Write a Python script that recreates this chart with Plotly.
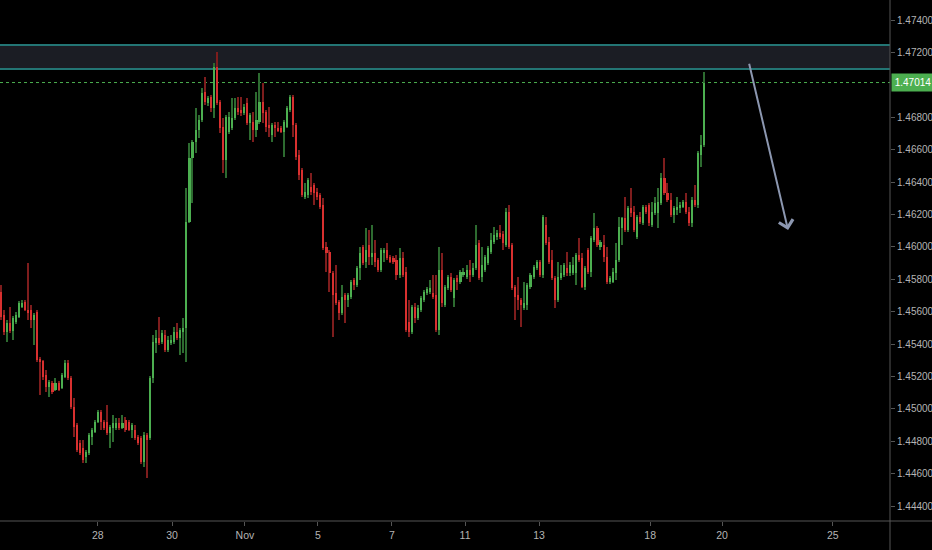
import plotly.graph_objects as go

# ---- data (2H candles) ----
open_ = [
1.45720,1.45578,1.45474,1.45529,1.45480,1.45535,1.45566,1.45628,1.45659,1.45609,
1.45609,1.45548,1.45597,1.45307,1.45295,1.45208,1.45134,1.45159,1.45116,1.45159,
1.45128,1.45196,1.45282,1.45190,1.45011,1.44900,1.44789,1.44758,1.44702,1.44727,
1.44826,1.44857,1.44918,1.44980,1.44918,1.44918,1.44850,1.44881,1.44881,1.44912,
1.44881,1.44931,1.44918,1.44869,1.44869,1.44826,1.44820,1.44671,1.44838,1.44820,
1.45190,1.45406,1.45437,1.45412,1.45455,1.45363,1.45406,1.45412,1.45474,1.45437,
1.45474,1.45498,1.46152,1.46547,1.46646,1.46720,1.46782,1.46954,1.46887,1.46924,
1.46856,1.47109,1.46893,1.46738,1.46535,1.46708,1.46732,1.46794,1.46856,1.46844,
1.46825,1.46887,1.46763,1.46769,1.46720,1.46769,1.46893,1.46831,1.46751,1.46689,
1.46751,1.46732,1.46732,1.46708,1.46738,1.46844,1.46924,1.46751,1.46566,1.46473,
1.46306,1.46319,1.46368,1.46381,1.46337,1.46319,1.46257,1.45998,1.45967,1.45838,
1.45714,1.45659,1.45591,1.45702,1.45671,1.45690,1.45795,1.45764,1.45868,1.45998,
1.45905,1.46010,1.45936,1.45961,1.45918,1.45856,1.45961,1.45980,1.45936,1.45930,
1.45918,1.45825,1.45930,1.45844,1.45535,1.45474,1.45628,1.45560,1.45609,1.45671,
1.45714,1.45720,1.45714,1.45702,1.45486,1.45856,1.45640,1.45745,1.45813,1.45683,
1.45807,1.45782,1.45825,1.45813,1.45856,1.45825,1.45868,1.46023,1.45813,1.45856,
1.45899,1.45967,1.46029,1.46060,1.46084,1.46078,1.46010,1.46214,1.46010,1.45751,
1.45702,1.45671,1.45622,1.45640,1.45751,1.45813,1.45868,1.45905,1.45825,1.46134,
1.46029,1.45918,1.45807,1.45671,1.45807,1.45825,1.45868,1.45838,1.45838,1.45838,
1.45949,1.45930,1.45751,1.45980,1.45844,1.46041,1.46115,1.45998,1.46010,1.45936,
1.45782,1.45782,1.45838,1.45918,1.46115,1.46177,1.46103,1.46239,1.46214,1.46060,
1.46183,1.46146,1.46245,1.46257,1.46134,1.46208,1.46208,1.46270,1.46424,1.46331,
1.46288,1.46195,1.46226,1.46239,1.46245,1.46276,1.46214,1.46146,1.46288,1.46257,
1.46566,1.46627]

high = [
1.45764,1.45609,1.45548,1.45628,1.45572,1.45597,1.45665,1.45671,1.45671,1.45899,
1.45640,1.45591,1.45609,1.45319,1.45301,1.45239,1.45177,1.45171,1.45190,1.45171,
1.45221,1.45301,1.45301,1.45202,1.45066,1.44912,1.44807,1.44807,1.44745,1.44850,
1.44881,1.44931,1.44992,1.44992,1.44931,1.45023,1.44900,1.44961,1.44943,1.44943,
1.44961,1.44949,1.44931,1.44912,1.44900,1.44838,1.44832,1.44857,1.44850,1.45202,
1.45455,1.45486,1.45566,1.45486,1.45486,1.45449,1.45455,1.45505,1.45529,1.45498,
1.45560,1.46362,1.46640,1.46658,1.46856,1.46812,1.46979,1.47047,1.46930,1.46936,
1.47133,1.47201,1.46905,1.46794,1.46812,1.46831,1.46917,1.46917,1.46924,1.46924,
1.46880,1.46917,1.46825,1.46831,1.46954,1.47072,1.47010,1.46844,1.46862,1.46763,
1.46769,1.46769,1.46745,1.46782,1.46868,1.46936,1.46936,1.46763,1.46597,1.46485,
1.46393,1.46424,1.46455,1.46393,1.46362,1.46331,1.46300,1.46029,1.45980,1.45850,
1.45887,1.45671,1.45764,1.45714,1.45714,1.45795,1.45807,1.45881,1.45998,1.46010,
1.46115,1.46103,1.46134,1.46041,1.45930,1.45992,1.45992,1.46023,1.45949,1.45942,
1.45949,1.45992,1.45967,1.45875,1.45671,1.45640,1.45652,1.45640,1.45696,1.45733,
1.45751,1.45795,1.45825,1.45825,1.45998,1.45961,1.45764,1.45825,1.45838,1.45807,
1.45825,1.45856,1.45868,1.45887,1.45918,1.45899,1.46134,1.46041,1.45998,1.45949,
1.46004,1.46084,1.46121,1.46103,1.46134,1.46097,1.46239,1.46257,1.46023,1.45764,
1.45813,1.45683,1.45782,1.45776,1.45838,1.45887,1.45918,1.45918,1.46195,1.46183,
1.46060,1.45980,1.45819,1.45905,1.45887,1.45899,1.45967,1.45905,1.45936,1.45961,
1.46054,1.45961,1.45881,1.45992,1.46066,1.46208,1.46128,1.46041,1.46072,1.45998,
1.45819,1.45868,1.46023,1.46183,1.46183,1.46306,1.46251,1.46362,1.46251,1.46195,
1.46214,1.46257,1.46257,1.46270,1.46276,1.46306,1.46362,1.46455,1.46547,1.46393,
1.46331,1.46251,1.46306,1.46276,1.46288,1.46331,1.46245,1.46306,1.46381,1.46590,
1.46689,1.47078]

low = [
1.45548,1.45455,1.45412,1.45467,1.45424,1.45523,1.45560,1.45622,1.45603,1.45548,
1.45498,1.45393,1.45288,1.45085,1.45177,1.45103,1.45073,1.45091,1.45109,1.45109,
1.45122,1.45190,1.45177,1.44999,1.44826,1.44733,1.44715,1.44665,1.44665,1.44715,
1.44776,1.44850,1.44912,1.44869,1.44869,1.44838,1.44758,1.44795,1.44869,1.44869,
1.44875,1.44857,1.44863,1.44820,1.44807,1.44776,1.44659,1.44641,1.44573,1.44807,
1.45159,1.45344,1.45393,1.45400,1.45350,1.45350,1.45393,1.45400,1.45424,1.45332,
1.45344,1.45288,1.46146,1.46270,1.46578,1.46671,1.46769,1.46874,1.46868,1.46831,
1.46794,1.46874,1.46701,1.46455,1.46424,1.46695,1.46720,1.46782,1.46812,1.46806,
1.46812,1.46751,1.46658,1.46646,1.46677,1.46757,1.46763,1.46708,1.46677,1.46646,
1.46677,1.46708,1.46701,1.46553,1.46732,1.46831,1.46677,1.46535,1.46411,1.46306,
1.46294,1.46300,1.46319,1.46257,1.46288,1.46232,1.45980,1.45844,1.45720,1.45443,
1.45640,1.45548,1.45578,1.45529,1.45628,1.45677,1.45733,1.45751,1.45795,1.45887,
1.45868,1.45887,1.45887,1.45875,1.45844,1.45844,1.45905,1.45918,1.45899,1.45893,
1.45795,1.45807,1.45813,1.45474,1.45443,1.45461,1.45529,1.45548,1.45597,1.45659,
1.45702,1.45708,1.45677,1.45474,1.45455,1.45628,1.45628,1.45733,1.45720,1.45628,
1.45733,1.45770,1.45813,1.45801,1.45782,1.45813,1.45856,1.45795,1.45782,1.45844,
1.45887,1.45955,1.46017,1.46041,1.46047,1.45980,1.45998,1.45986,1.45733,1.45548,
1.45609,1.45504,1.45609,1.45609,1.45739,1.45801,1.45856,1.45813,1.45807,1.46010,
1.45893,1.45795,1.45622,1.45659,1.45795,1.45813,1.45819,1.45819,1.45825,1.45764,
1.45905,1.45745,1.45733,1.45831,1.45813,1.46029,1.45998,1.45980,1.45905,1.45770,
1.45770,1.45776,1.45795,1.45905,1.46010,1.46091,1.46091,1.46183,1.46091,1.46047,
1.46140,1.46134,1.46202,1.46128,1.46121,1.46195,1.46115,1.46257,1.46319,1.46276,
1.46183,1.46146,1.46195,1.46208,1.46239,1.46202,1.46128,1.46121,1.46245,1.46239,
1.46492,1.46615]

close = [
1.45566,1.45474,1.45529,1.45480,1.45560,1.45578,1.45652,1.45652,1.45609,1.45591,
1.45548,1.45578,1.45301,1.45288,1.45196,1.45134,1.45165,1.45103,1.45159,1.45116,
1.45208,1.45282,1.45190,1.45011,1.44887,1.44745,1.44727,1.44684,1.44733,1.44838,
1.44869,1.44918,1.44980,1.44918,1.44881,1.44850,1.44887,1.44912,1.44912,1.44881,
1.44912,1.44869,1.44869,1.44900,1.44820,1.44789,1.44671,1.44838,1.44807,1.45190,
1.45412,1.45437,1.45406,1.45467,1.45363,1.45424,1.45424,1.45474,1.45437,1.45486,
1.45498,1.46152,1.46547,1.46646,1.46720,1.46782,1.46948,1.46893,1.46917,1.46856,
1.47109,1.46887,1.46732,1.46535,1.46800,1.46800,1.46794,1.46856,1.46831,1.46825,
1.46862,1.46763,1.46812,1.46720,1.46782,1.46893,1.46825,1.46738,1.46732,1.46751,
1.46732,1.46720,1.46708,1.46769,1.46856,1.46924,1.46751,1.46553,1.46442,1.46319,
1.46337,1.46411,1.46337,1.46331,1.46306,1.46245,1.45992,1.45961,1.45838,1.45702,
1.45652,1.45591,1.45690,1.45671,1.45702,1.45782,1.45764,1.45868,1.45961,1.45899,
1.45980,1.45936,1.45961,1.45905,1.45856,1.45980,1.45980,1.45930,1.45905,1.45905,
1.45825,1.45930,1.45825,1.45486,1.45474,1.45628,1.45560,1.45622,1.45683,1.45720,
1.45739,1.45745,1.45690,1.45486,1.45856,1.45652,1.45751,1.45813,1.45733,1.45795,
1.45782,1.45844,1.45844,1.45856,1.45825,1.45868,1.46010,1.45807,1.45887,1.45936,
1.45992,1.46041,1.46072,1.46084,1.46060,1.46023,1.46214,1.45998,1.45745,1.45690,
1.45671,1.45640,1.45652,1.45764,1.45825,1.45875,1.45905,1.45825,1.46183,1.46023,
1.45905,1.45807,1.45671,1.45813,1.45838,1.45887,1.45838,1.45887,1.45887,1.45949,
1.45918,1.45751,1.45868,1.45844,1.46054,1.46115,1.46010,1.46029,1.45936,1.45782,
1.45807,1.45844,1.45918,1.46121,1.46177,1.46103,1.46239,1.46208,1.46103,1.46183,
1.46152,1.46245,1.46214,1.46146,1.46214,1.46270,1.46276,1.46424,1.46331,1.46288,
1.46195,1.46239,1.46245,1.46257,1.46276,1.46214,1.46146,1.46288,1.46257,1.46578,
1.46627,1.47014]

x_tick_labels = ["28", "30", "Nov", "5", "7", "11", "13", "18", "20", "25"]
x_tick_pos = [31.9, 56.3, 80.2, 104.2, 128.5, 152.5, 176.8, 213.3, 236.9, 273.3]
y_tick_vals = [1.444, 1.446, 1.448, 1.450, 1.452, 1.454, 1.456, 1.458, 1.460,
               1.462, 1.464, 1.466, 1.468, 1.472, 1.474]
last_price = 1.47014
zone_low = 1.47097
zone_high = 1.47245

# ---- styling ----
UP_BODY = "#4caf50"
DN_BODY = "#d8302f"
UP_WICK = "#2d6b30"
DN_WICK = "#7e1d1d"
TEXT = "#b4b4b4"
AXIS = "#555555"
FONT = "Liberation Sans, Arial, sans-serif"

idx = list(range(len(close)))
is_up = [c >= o for o, c in zip(open_, close)]
body_base = [min(o, c) for o, c in zip(open_, close)]
body_h = [max(abs(c - o), 0.00005) for o, c in zip(open_, close)]
wick_h = [h - l for h, l in zip(high, low)]

fig = go.Figure()
fig.add_trace(go.Bar(
    x=idx, y=wick_h, base=low, width=0.36,
    marker=dict(color=[UP_WICK if u else DN_WICK for u in is_up], line=dict(width=0)),
    hoverinfo="skip", showlegend=False))
fig.add_trace(go.Bar(
    x=idx, y=body_h, base=body_base, width=0.68,
    marker=dict(color=[UP_BODY if u else DN_BODY for u in is_up], line=dict(width=0)),
    hoverinfo="skip", showlegend=False))

shapes = [
    dict(type="rect", xref="paper", yref="y", x0=0, x1=1, y0=zone_low, y1=zone_high,
         fillcolor="#1b1d24", line=dict(width=0), layer="below"),
    dict(type="line", xref="paper", yref="y", x0=0, x1=1, y0=zone_high, y1=zone_high,
         line=dict(color="#237574", width=2), layer="below"),
    dict(type="line", xref="paper", yref="y", x0=0, x1=1, y0=zone_low, y1=zone_low,
         line=dict(color="#237574", width=2), layer="below"),
    dict(type="line", xref="paper", yref="y", x0=0, x1=1, y0=last_price, y1=last_price,
         line=dict(color="#4caf50", width=1, dash="dot"), layer="below"),
    dict(type="line", xref="paper", yref="paper", x0=1, x1=1, y0=-29 / 521, y1=1,
         line=dict(color=AXIS, width=1)),
    dict(type="line", xref="paper", yref="paper", x0=0, x1=932 / 890, y0=0, y1=0,
         line=dict(color=AXIS, width=1)),
]

annotations = []
# price-scale labels (placed as text next to the axis ticks)
for v in y_tick_vals:
    annotations.append(dict(
        x=1, xref="paper", xanchor="left", xshift=5, y=v, yref="y", yanchor="middle",
        text="{:.5f}".format(v), showarrow=False,
        font=dict(color=TEXT, size=10, family=FONT)))
annotations += [
    dict(x=1, xref="paper", xanchor="left", y=last_price, yref="y", yanchor="middle",
         text="{:.5f}".format(last_price), showarrow=False, bgcolor="#4caf50",
         font=dict(color="#ffffff", size=10, family=FONT), width=40, height=15,
         borderpad=1, align="center", xshift=1),
    dict(x=258.6, y=1.46103, ax=245.7, ay=1.47139, xref="x", yref="y",
         axref="x", ayref="y", text="", showarrow=True, arrowhead=4,
         arrowsize=1.4, arrowwidth=2, arrowcolor="#8c97b0"),
]

fig.update_layout(
    width=932, height=550,
    margin=dict(l=0, r=42, t=0, b=29, autoexpand=False),
    paper_bgcolor="#000000", plot_bgcolor="#000000",
    barmode="overlay", bargap=0,
    font=dict(family=FONT, color=TEXT, size=11),
    shapes=shapes, annotations=annotations,
    xaxis=dict(range=[-0.23, 292.07], showgrid=False, zeroline=False, showline=False,
               automargin=False,
               tickvals=x_tick_pos, ticktext=x_tick_labels, ticks="outside",
               ticklen=4, tickcolor=AXIS, tickfont=dict(size=10.5, color=TEXT),
               fixedrange=True),
    yaxis=dict(range=[1.443074, 1.475235], side="right", showgrid=False, zeroline=False,
               showline=False, automargin=False, tickvals=y_tick_vals,
               showticklabels=False,
               ticks="outside", ticklen=4, tickcolor=AXIS, fixedrange=True),
)

fig.write_html(
    "out.html",
    config={"displayModeBar": False},
    post_script="document.body.style.margin='0px';document.body.style.background='#000000';",
)
